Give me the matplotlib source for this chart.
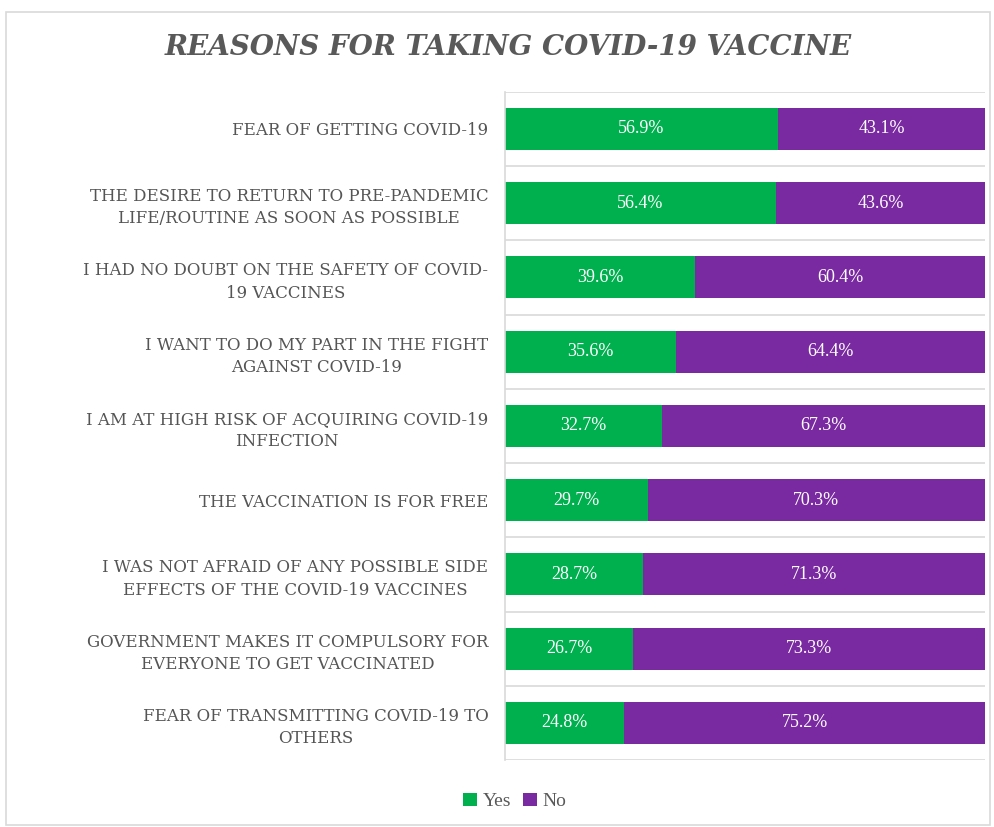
import matplotlib.pyplot as plt
from matplotlib.patches import Rectangle
import numpy as np

# categories top to bottom
reasons = [
    "FEAR OF GETTING COVID-19",
    "THE DESIRE TO RETURN TO PRE-PANDEMIC\nLIFE/ROUTINE AS SOON AS POSSIBLE",
    "I HAD NO DOUBT ON THE SAFETY OF COVID-\n19 VACCINES",
    "I WANT TO DO MY PART IN THE FIGHT\nAGAINST COVID-19",
    "I AM AT HIGH RISK OF ACQUIRING COVID-19\nINFECTION",
    "THE VACCINATION IS FOR FREE",
    "I WAS NOT AFRAID OF ANY POSSIBLE SIDE\nEFFECTS OF THE COVID-19 VACCINES",
    "GOVERNMENT MAKES IT COMPULSORY FOR\nEVERYONE TO GET VACCINATED",
    "FEAR OF TRANSMITTING COVID-19 TO\nOTHERS",
]
yes = [56.9, 56.4, 39.6, 35.6, 32.7, 29.7, 28.7, 26.7, 24.8]
no = [43.1, 43.6, 60.4, 64.4, 67.3, 70.3, 71.3, 73.3, 75.2]

green = "#00B04F"
purple = "#7A2AA0"
serif = ["Liberation Serif", "DejaVu Serif"]
wide = ["DejaVu Serif"]

fig = plt.figure(figsize=(9.94, 8.27), dpi=100)
fig.patches.append(Rectangle((0.006, 0.003), 0.99, 0.982, transform=fig.transFigure,
                             fill=False, edgecolor="#d9d9d9", linewidth=1.2))

ax = fig.add_axes([0.508, 0.081, 0.483, 0.808])
y = np.arange(len(reasons))
b1 = ax.barh(y, yes, height=0.565, color=green, label="Yes")
b2 = ax.barh(y, no, left=yes, height=0.565, color=purple, label="No")

for bars, vals in ((b1, yes), (b2, no)):
    for r, v in zip(bars, vals):
        ax.text(r.get_x() + r.get_width() / 2, r.get_y() + r.get_height() / 2,
                "{:.1f}%".format(v), color="white", ha="center", va="center",
                fontsize=13, family=serif)

ax.set_xlim(0, 100)
ax.set_ylim(len(reasons) - 0.5, -0.5)
ax.set_yticks(y)
ax.set_yticklabels(reasons, family=wide, fontsize=12, color="#555555",
                   linespacing=1.4, multialignment="center")
ax.tick_params(axis="y", length=0, pad=12)
ax.set_xticks([])
ax.set_yticks(np.arange(-0.5, len(reasons)), minor=True)
ax.tick_params(axis="y", which="minor", length=0)
ax.grid(True, axis="y", which="minor", color="#d9d9d9", linewidth=1.2)
ax.set_axisbelow(True)
for s in ["top", "right", "bottom"]:
    ax.spines[s].set_visible(False)
ax.spines["left"].set_color("#d9d9d9")
ax.spines["left"].set_linewidth(1.2)

fig.text(0.511, 0.943, "REASONS FOR TAKING COVID-19 VACCINE", ha="center", va="center",
         fontsize=20, style="italic", fontweight="bold", color="#595959", family=wide)

fig.legend(handles=[b1, b2], labels=["Yes", "No"], loc="center", bbox_to_anchor=(0.518, 0.031),
           ncol=2, frameon=False, handlelength=0.7, handleheight=0.7, handletextpad=0.3,
           columnspacing=0.6, prop={"family": serif, "size": 14}, labelcolor="#595959")

fig.savefig("out.png", dpi=100)
